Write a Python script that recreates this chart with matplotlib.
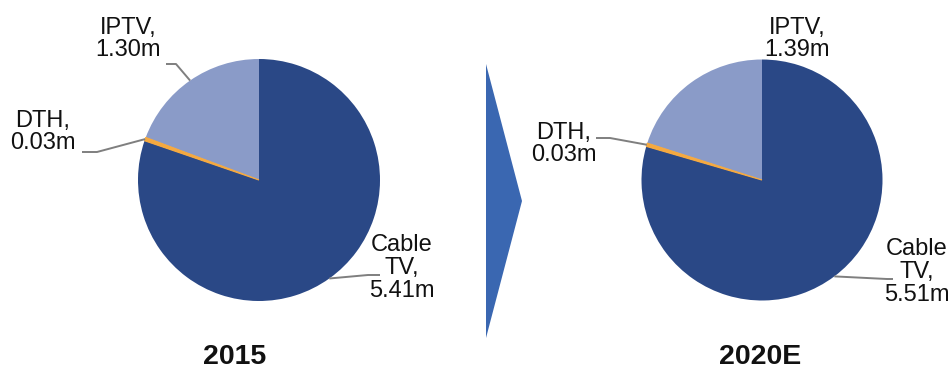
import numpy as np
import matplotlib
matplotlib.use('Agg')
import matplotlib.pyplot as plt
from matplotlib.patches import Polygon

plt.rcParams['font.family'] = ['Liberation Sans', 'DejaVu Sans']

# data
segments = ['Cable TV', 'DTH', 'IPTV']
years = ['2015', '2020E']
values_2015 = [5.41, 0.03, 1.30]
values_2020 = [5.51, 0.03, 1.39]
label_text = {
    'Cable TV': 'Cable\nTV,\n{:.2f}m',
    'DTH': 'DTH,\n{:.2f}m',
    'IPTV': 'IPTV,\n{:.2f}m',
}
colors = ['#2A4886', '#F5A940', '#8A9BC8']

W, H = 950, 369
fig = plt.figure(figsize=(9.5, 3.69), dpi=100)
ax = fig.add_axes([0, 0, 1, 1])


def py(y):
    # 像素坐标 (从上往下) 转成数据坐标
    return H - y


# 饼图位置, 标签位置 (像素)
pie_layout = [
    dict(center=(259, 180), r=121,
         labels={'IPTV': (128, 39), 'DTH': (43, 132), 'Cable TV': (402, 268)},
         leaders={'IPTV': [(176, 64), (166, 64)],
                  'DTH': [(97, 152), (82, 152)],
                  'Cable TV': [(368, 275), (380, 275)]},
         year_x=235),
    dict(center=(762, 180), r=120.5,
         labels={'IPTV': (797, 39), 'DTH': (564, 144), 'Cable TV': (917, 272)},
         leaders={'DTH': [(610, 138), (596, 138)],
                  'Cable TV': [(887, 279), (893, 279)]},
         year_x=760),
]

for vals, year, lay in zip([values_2015, values_2020], years, pie_layout):
    cx, cy = lay['center']
    r = lay['r']
    wedges, _ = ax.pie(vals, colors=colors, startangle=90, counterclock=False,
                       center=(cx, py(cy)), radius=r, frame=True,
                       wedgeprops=dict(linewidth=0))
    # DTH 太细, 加一点描边
    wedges[1].set_edgecolor(colors[1])
    wedges[1].set_linewidth(0.9)
    wedges[1].set_zorder(wedges[2].get_zorder() + 0.1)

    # 计算每块的中间角度, 引线起点
    total = sum(vals)
    start = 90.0
    for name, v in zip(segments, vals):
        ang = start - 360.0 * v / total / 2
        start -= 360.0 * v / total
        tx, ty = lay['labels'][name]
        ax.text(tx, py(ty), label_text[name].format(v), ha='center', va='center',
                fontsize=17, color='#111111', linespacing=1.05)
        if name in lay['leaders']:
            a = np.deg2rad(ang)
            ax0 = cx + r * np.cos(a)
            ay0 = py(cy) + r * np.sin(a)
            pts = [(ax0, ay0)] + [(x, py(y)) for x, y in lay['leaders'][name]]
            ax.plot([p[0] for p in pts], [p[1] for p in pts], color='#7F7F7F',
                    lw=1.4, solid_capstyle='butt', zorder=3)

    ax.text(lay['year_x'], py(357), year, ha='center', va='center',
            fontsize=20.5, fontweight='bold', color='#111111')

# 中间的箭头
ax.add_patch(Polygon([(486, py(64)), (522, py(201)), (486, py(338))],
                     closed=True, facecolor='#3A67B1', edgecolor='none'))

ax.set_xlim(0, W)
ax.set_ylim(0, H)
ax.set_aspect('auto')
ax.axis('off')

fig.savefig('out.png', dpi=100)
